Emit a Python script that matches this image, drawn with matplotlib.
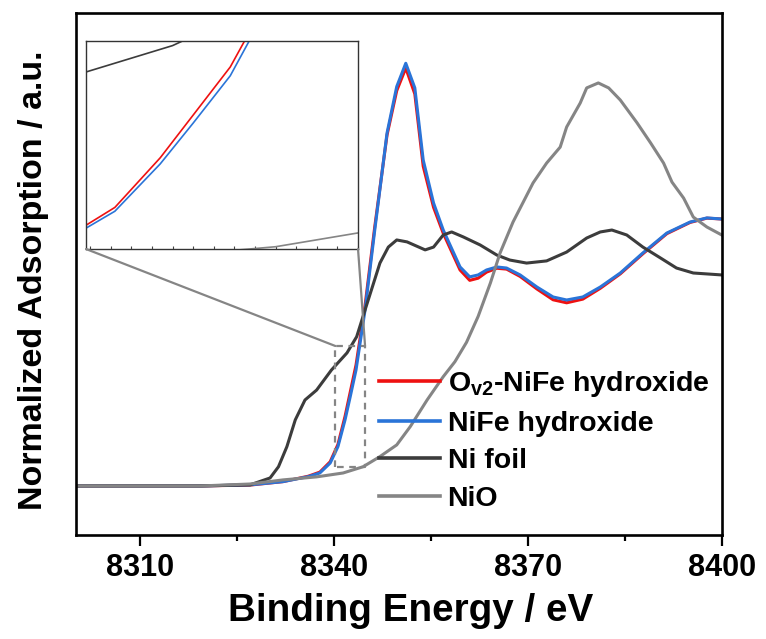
import matplotlib
matplotlib.use("Agg")
import matplotlib.pyplot as plt
from matplotlib.ticker import MultipleLocator, FixedLocator
from matplotlib.patches import ConnectionPatch

plt.rcParams['font.family'] = ['Liberation Sans', 'DejaVu Sans']
plt.rcParams['font.weight'] = 'bold'
plt.rcParams['mathtext.fontset'] = 'custom'
plt.rcParams['mathtext.rm'] = 'Liberation Sans:bold'
plt.rcParams['mathtext.bf'] = 'Liberation Sans:bold'
plt.rcParams['mathtext.it'] = 'Liberation Sans:bold'

# ---------------- data ----------------
blue_x = [8300, 8319.3, 8327, 8332.1, 8336, 8337.8, 8339.4, 8340.6, 8341.7, 8342.5, 8343.4,
          8344.8, 8346.3, 8348.2, 8349.7, 8351.1, 8352.5, 8353.8, 8355.4, 8356.9, 8359.5,
          8361.0, 8362.3, 8363.6, 8365.2, 8366.7, 8368.8, 8371.4, 8373.9, 8376.0, 8378.5,
          8381.2, 8384.3, 8387.8, 8391.5, 8395.1, 8397.7, 8400]
blue_y = [0.0, 0.0, 0.005, 0.02, 0.043, 0.06, 0.106, 0.182, 0.306, 0.413, 0.537,
          0.815, 1.185, 1.634, 1.849, 1.957, 1.843, 1.509, 1.31, 1.185, 1.014,
          0.968, 0.977, 1.0, 1.014, 1.009, 0.977, 0.921, 0.875, 0.861, 0.875,
          0.921, 0.986, 1.079, 1.171, 1.222, 1.241, 1.236]
red_x = blue_x
red_y = [0.0, 0.0, 0.004, 0.02, 0.045, 0.064, 0.112, 0.192, 0.322, 0.434, 0.56,
         0.835, 1.2, 1.625, 1.83, 1.935, 1.815, 1.48, 1.29, 1.17, 1.0,
         0.952, 0.962, 0.99, 1.008, 1.004, 0.97, 0.912, 0.862, 0.848, 0.865,
         0.915, 0.982, 1.075, 1.168, 1.22, 1.24, 1.236]
nifoil_x = [8300, 8319.3, 8327, 8330.1, 8331.4, 8332.7, 8334.0, 8335.5, 8337.3, 8339.6,
            8342.0, 8343.5, 8344.8, 8347.1, 8348.4, 8349.7, 8351.3, 8354.1, 8355.4, 8356.9,
            8358.2, 8360.0, 8362.6, 8365.2, 8367.2, 8369.8, 8372.9, 8376.0, 8379.1, 8381.2,
            8383.0, 8385.3, 8387.8, 8390.5, 8393.0, 8395.6, 8400]
nifoil_y = [0.0, 0.0, 0.005, 0.037, 0.089, 0.182, 0.306, 0.398, 0.444, 0.537,
            0.616, 0.691, 0.815, 1.032, 1.106, 1.139, 1.13, 1.093, 1.106, 1.162,
            1.176, 1.153, 1.116, 1.069, 1.046, 1.032, 1.042, 1.083, 1.148, 1.176,
            1.185, 1.162, 1.106, 1.056, 1.009, 0.986, 0.977]
nio_x = [8300, 8319.3, 8327, 8332.1, 8337.3, 8341.4, 8344.5, 8347.1, 8349.7, 8351.8,
         8354.4, 8356.9, 8358.7, 8360.5, 8362.3, 8364.2, 8365.7, 8367.7, 8370.8, 8372.9,
         8375.0, 8376.0, 8378.1, 8379.1, 8380.9, 8382.5, 8384.3, 8386.9, 8389.0, 8391.0,
         8392.3, 8394.1, 8395.6, 8397.7, 8400]
nio_y = [0.0, 0.0, 0.009, 0.028, 0.042, 0.06, 0.089, 0.136, 0.19, 0.275,
         0.398, 0.506, 0.575, 0.665, 0.785, 0.94, 1.079, 1.222, 1.403, 1.495,
         1.569, 1.662, 1.773, 1.843, 1.866, 1.843, 1.787, 1.681, 1.588, 1.495,
         1.407, 1.333, 1.245, 1.199, 1.162]

labels = [r'O$_{\mathbf{v2}}$-NiFe hydroxide', 'NiFe hydroxide', 'Ni foil', 'NiO']
colors = ['#ee1111', '#2a74d8', '#3c3c3c', '#858585']

xticks = [8310, 8340, 8370, 8400]
xminor = [8325, 8355, 8385]
xlim = (8300, 8400)
ylim = (-0.227, 2.19)

zoom_box_x = (8340.2, 8344.8)
zoom_box_y = (0.09, 0.648)
inset_xlim = (8339.9, 8346.5)
inset_ylim = (0.083, 0.628)

# ---------------- figure ----------------
fig = plt.figure(figsize=(7.66, 6.39), dpi=100)
ax = fig.add_axes([0.0987, 0.1628, 0.8435, 0.8169])

series = [(red_x, red_y), (blue_x, blue_y), (nifoil_x, nifoil_y), (nio_x, nio_y)]
for (xs, ys), c, lab in zip(series, colors, labels):
    ax.plot(xs, ys, color=c, lw=2.2, label=lab, solid_joinstyle='round')

ax.set_xlim(*xlim)
ax.set_ylim(*ylim)
ax.xaxis.set_major_locator(FixedLocator(xticks))
ax.xaxis.set_minor_locator(FixedLocator(xminor))
ax.set_yticks([])
ax.tick_params(axis='x', which='major', direction='out', length=7.7, width=1.6,
               labelsize=22, pad=5)
ax.tick_params(axis='x', which='minor', direction='out', length=4.3, width=1.6)
for lab in ax.get_xticklabels():
    lab.set_fontweight('bold')
for sp in ax.spines.values():
    sp.set_linewidth(1.9)

ax.set_xlabel('Binding Energy / eV', fontsize=27.8, fontweight='bold')
ax.xaxis.set_label_coords(0.518, -0.112)
ax.set_ylabel('Normalized Adsorption / a.u.', fontsize=24.5, fontweight='bold')
ax.yaxis.set_label_coords(-0.041, 0.488)

# dashed zoom box
bx0, bx1 = zoom_box_x
by0, by1 = zoom_box_y
ax.plot([bx0, bx0, bx1, bx1, bx0], [by0, by1, by1, by0, by0], ls=(0, (3, 2.5)),
        color='#858585', lw=1.6, zorder=5)

# legend
leg = ax.legend(loc='upper left', bbox_to_anchor=(0.47, 0.318), frameon=False,
                fontsize=20.5, handlelength=2.15, handletextpad=0.25,
                labelspacing=0.41, borderaxespad=0, borderpad=0)
for t in leg.get_texts():
    t.set_fontweight('bold')
for h in leg.legend_handles:
    h.set_linewidth(2.6)

# inset
axin = fig.add_axes([0.1123, 0.6103, 0.3551, 0.3255])
for (xs, ys), c in zip(series, colors):
    axin.plot(xs, ys, color=c, lw=1.2)
axin.set_xlim(*inset_xlim)
axin.set_ylim(*inset_ylim)
axin.set_yticks([])
axin.xaxis.set_major_locator(MultipleLocator(0.5))
axin.tick_params(axis='x', which='major', direction='in', length=2, width=0.8,
                 labelbottom=False, color='#444444')
for sp in axin.spines.values():
    sp.set_linewidth(1.0)
    sp.set_color('#333333')

# connector lines from inset corners to dashed box
for (xa, ya), (xb, yb) in [((0, 0), (bx0, by1)), ((1, 0), (bx1, by1))]:
    con = ConnectionPatch(xyA=(xa, ya), coordsA=axin.transAxes,
                          xyB=(xb, yb), coordsB=ax.transData,
                          color='#858585', lw=1.6)
    fig.add_artist(con)

fig.savefig('out.png', dpi=100)
